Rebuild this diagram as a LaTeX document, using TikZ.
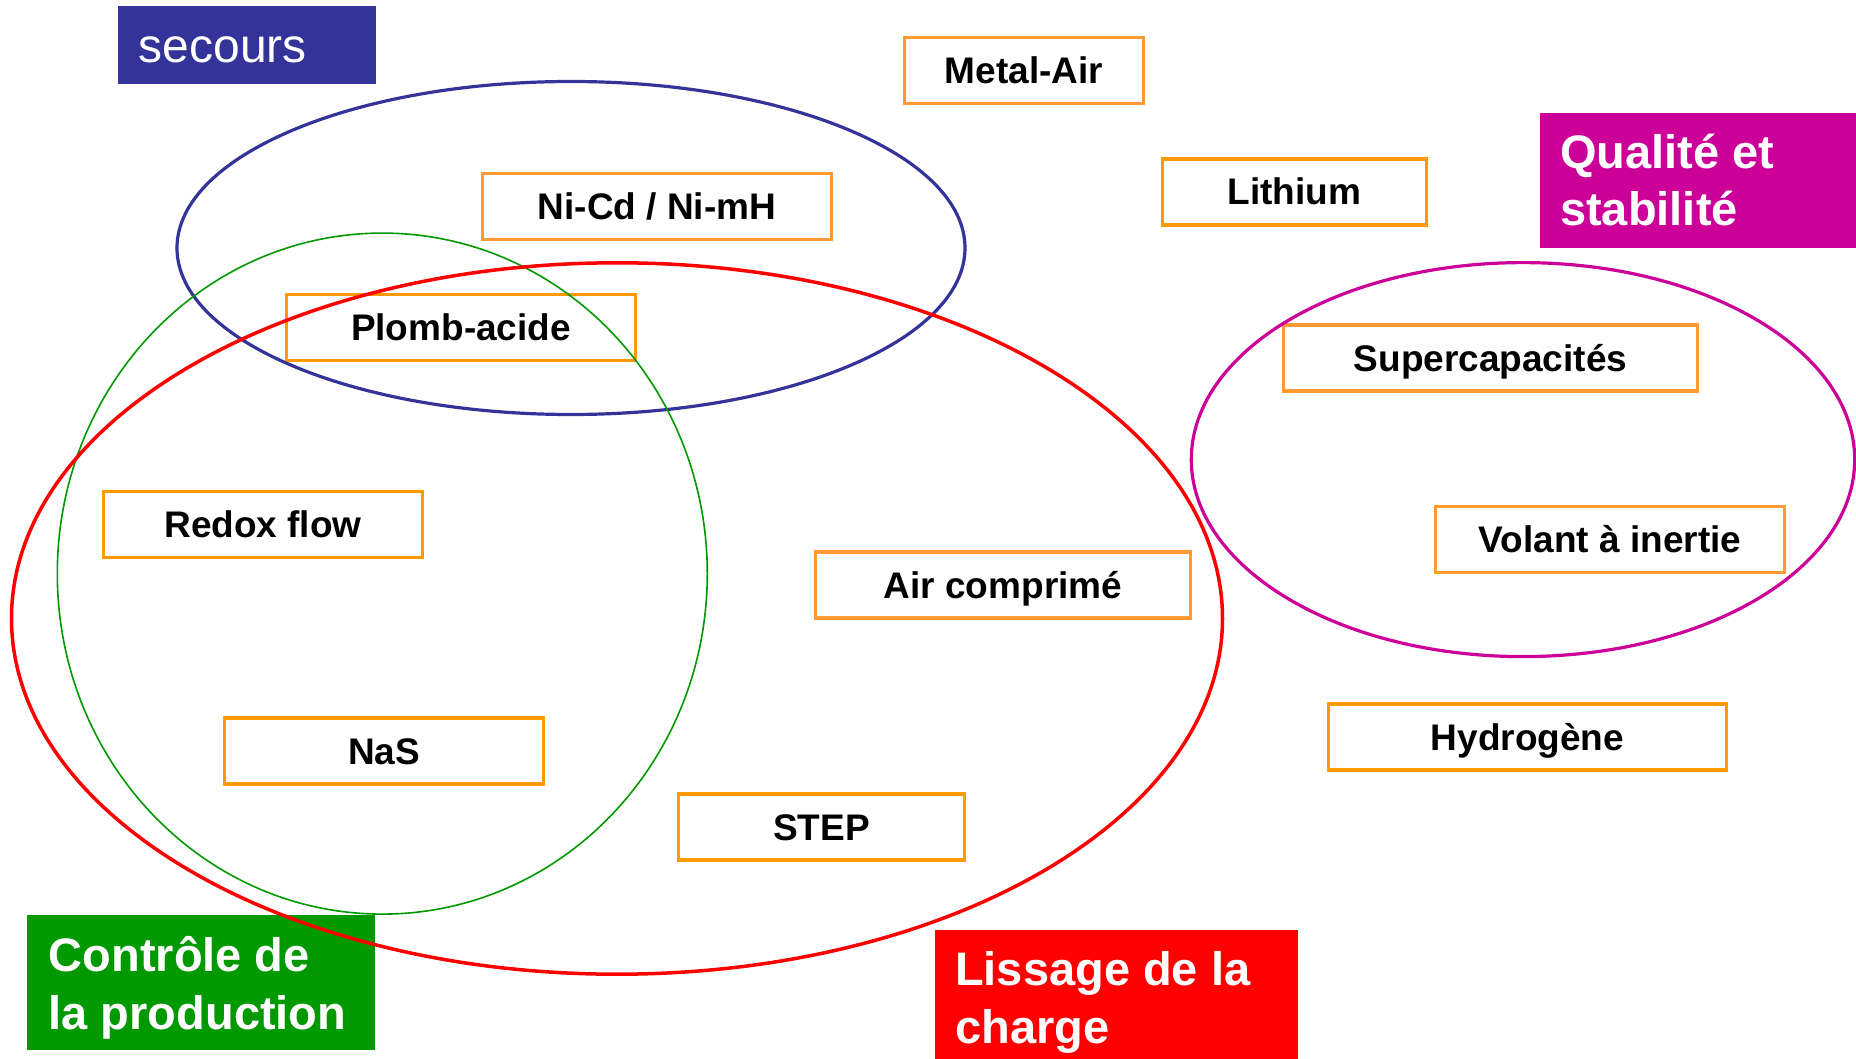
\documentclass[tikz,border=0pt]{standalone}
\usepackage{fontspec}
\setmainfont{Liberation Sans}
\usetikzlibrary{positioning}
\definecolor{secoursblue}{HTML}{333399}
\definecolor{prodgreen}{HTML}{009900}
\definecolor{chargered}{HTML}{FF0000}
\definecolor{qualmagenta}{HTML}{CC0099}
\definecolor{techorange}{HTML}{FF9933}
\definecolor{techamber}{HTML}{FF9900}
\tikzset{
  tech/.style={draw=techorange, line width=3.5pt, minimum height=66pt, inner sep=0pt,
    text height=26pt, text depth=0pt, font=\fontsize{37}{44}\selectfont\bfseries},
  techB/.style={tech, draw=techamber},
  zonebox/.style={anchor=north west, inner sep=0pt},
  zonetext/.style={anchor=base west, align=left, text=white, inner sep=0pt,
    font=\fontsize{47}{57.5}\selectfont\bfseries}
}
\begin{document}
\begin{tikzpicture}[x=1pt,y=-1pt]
\useasboundingbox (0,0) rectangle (1856,1059);
\node[zonebox, fill=secoursblue, minimum width=258pt, minimum height=78pt] (Secours) at (118,6) {};
\node[zonebox, fill=qualmagenta, minimum width=316pt, minimum height=135pt] (Qualite) at (1540,113) {};
\node[zonebox, fill=prodgreen, minimum width=348pt, minimum height=135pt] (Controle) at (27,915) {};
\node[zonebox, fill=chargered, minimum width=363pt, minimum height=129pt] (Lissage) at (935,930) {};
% base = baseline of the last line
\node[zonetext, font=\fontsize{48}{56}\selectfont] (SecoursT) at (138.5,62.5) {secours};
\node[zonetext] (QualiteT) at (1560,225.8) {Qualité et\\stabilité};
\node[zonetext] (ControleT) at (48.5,1029) {Contrôle de\\la production};
\node[zonetext] (LissageT) at (955,1043) {Lissage de la\\charge};
\node[tech, minimum width=239pt] (Metal) at (1024,70.5) {Metal-Air};
\node[tech, minimum width=349pt] (NiCd) at (657,206.5) {Ni-Cd / Ni-mH};
\node[techB, minimum width=264pt] (Lithium) at (1294.5,192) {Lithium};
\node[techB, minimum width=349pt] (Plomb) at (461,327.5) {Plomb-acide};
\node[tech, minimum width=414pt] (Supercap) at (1490.5,358) {Supercapacités};
\node[techB, minimum width=319pt] (Redox) at (263,524.5) {Redox flow};
\node[tech, minimum width=349pt] (Volant) at (1610,539.5) {Volant à inertie};
\node[tech, minimum width=375pt] (Air) at (1003,585) {Air comprimé};
\node[techB, minimum width=398pt] (Hydro) at (1527.5,737) {Hydrogène};
\node[techB, minimum width=319pt] (NaS) at (384,751) {NaS};
\node[techB, minimum width=286pt] (STEP) at (821.5,827) {STEP};
\draw[secoursblue, line width=3.2pt] (571,248) ellipse [x radius=394, y radius=166.5];
\draw[prodgreen, line width=1.6pt] (382.3,573.6) ellipse [x radius=325, y radius=340.5];
\draw[chargered, line width=3.5pt] (617,618.5) ellipse [x radius=605.5, y radius=355.7];
\draw[qualmagenta, line width=3.2pt] (1523,459.6) ellipse [x radius=331.7, y radius=197];
\end{tikzpicture}
\end{document}
